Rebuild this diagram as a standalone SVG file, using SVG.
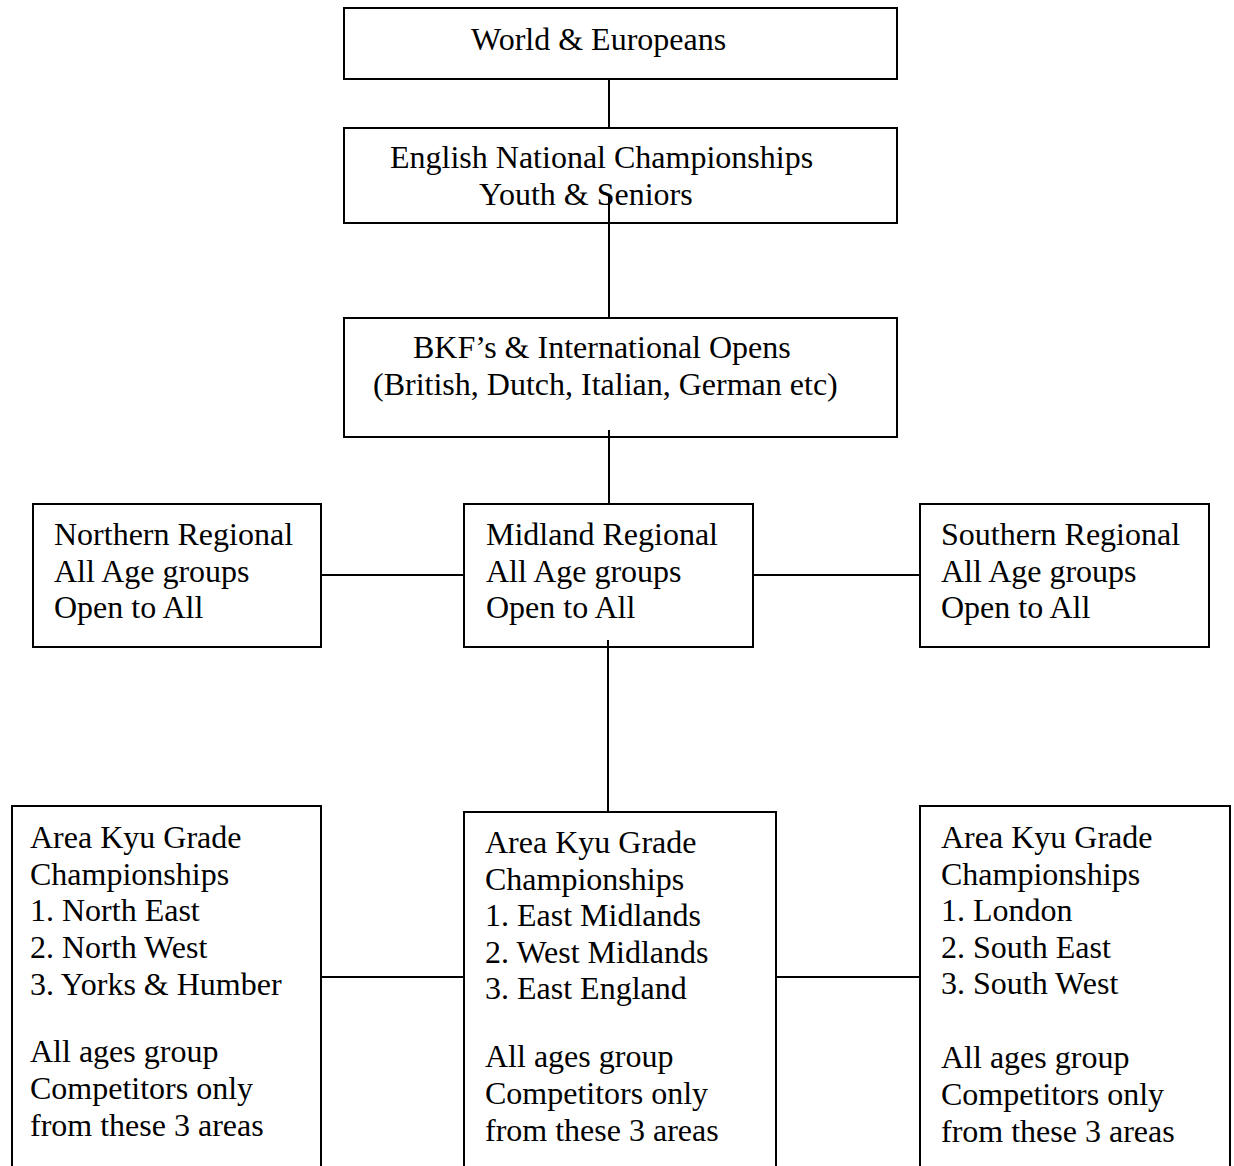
<svg xmlns="http://www.w3.org/2000/svg" width="1234" height="1166" viewBox="0 0 1234 1166">
<style>
.box{fill:#fff;stroke:#000;stroke-width:2}
.ln{stroke:#000;stroke-width:2;fill:none}
text{font-family:"Liberation Serif","Times New Roman",serif;font-size:32px;fill:#000}
</style>
<rect width="1234" height="1166" fill="#fff"/>
<g id="n-world"><rect class="box" x="344" y="8" width="553" height="71"/><text x="471" y="50">World &amp; Europeans</text></g>
<g id="n-english"><rect class="box" x="344" y="128" width="553" height="95"/><text x="390" y="168">English National Championships</text><text x="479" y="205">Youth &amp; Seniors</text></g>
<g id="n-bkf"><rect class="box" x="344" y="318" width="553" height="119"/><text x="413" y="358">BKF’s &amp; International Opens</text><text x="373" y="395">(British, Dutch, Italian, German etc)</text></g>
<g id="n-northern"><rect class="box" x="33" y="504" width="288" height="143"/><text x="54" y="545">Northern Regional</text><text x="54" y="582">All Age groups</text><text x="54" y="618">Open to All</text></g>
<g id="n-midland"><rect class="box" x="464" y="504" width="289" height="143"/><text x="486" y="545">Midland Regional</text><text x="486" y="582">All Age groups</text><text x="486" y="618">Open to All</text></g>
<g id="n-southern"><rect class="box" x="920" y="504" width="289" height="143"/><text x="941" y="545">Southern Regional</text><text x="941" y="582">All Age groups</text><text x="941" y="618">Open to All</text></g>
<g id="n-area-north"><rect class="box" x="12" y="806" width="309" height="370"/><text x="30" y="848">Area Kyu Grade</text><text x="30" y="885">Championships</text><text x="30" y="921">1. North East</text><text x="30" y="958">2. North West</text><text x="30" y="995">3. Yorks &amp; Humber</text><text x="30" y="1062">All ages group</text><text x="30" y="1099">Competitors only</text><text x="30" y="1136">from these 3 areas</text></g>
<g id="n-area-mid"><rect class="box" x="464" y="812" width="312" height="370"/><text x="485" y="853">Area Kyu Grade</text><text x="485" y="890">Championships</text><text x="485" y="926">1. East Midlands</text><text x="485" y="963">2. West Midlands</text><text x="485" y="999">3. East England</text><text x="485" y="1067">All ages group</text><text x="485" y="1104">Competitors only</text><text x="485" y="1141">from these 3 areas</text></g>
<g id="n-area-south"><rect class="box" x="920" y="806" width="310" height="370"/><text x="941" y="848">Area Kyu Grade</text><text x="941" y="885">Championships</text><text x="941" y="921">1. London</text><text x="941" y="958">2. South East</text><text x="941" y="994">3. South West</text><text x="941" y="1068">All ages group</text><text x="941" y="1105">Competitors only</text><text x="941" y="1142">from these 3 areas</text></g>
<g id="connectors">
<line class="ln" x1="609" y1="79" x2="609" y2="128"/>
<line class="ln" x1="609" y1="195" x2="609" y2="318"/>
<line class="ln" x1="609" y1="430" x2="609" y2="504"/>
<line class="ln" x1="321" y1="575" x2="464" y2="575"/>
<line class="ln" x1="753" y1="575" x2="920" y2="575"/>
<line class="ln" x1="608" y1="640" x2="608" y2="812"/>
<line class="ln" x1="321" y1="977" x2="464" y2="977"/>
<line class="ln" x1="776" y1="977" x2="920" y2="977"/>
</g>
</svg>
